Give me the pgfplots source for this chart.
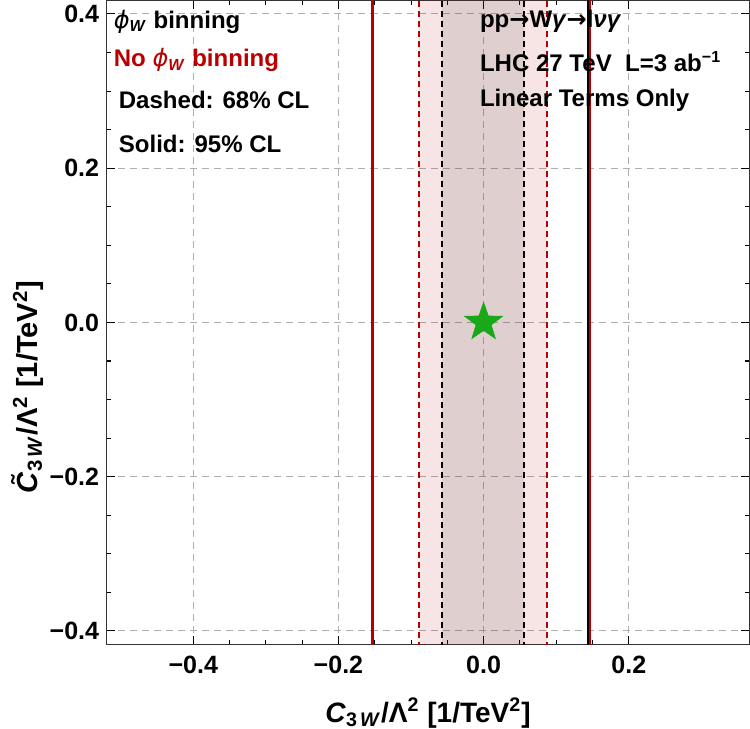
\documentclass[border=0pt]{standalone}
\usepackage{fontspec}
\setmainfont{Liberation Sans}
\newfontfamily\dejavu{DejaVu Sans}
\usepackage{pgfplots}
\pgfplotsset{compat=1.18}
\definecolor{dred}{rgb}{0.72,0,0}
\definecolor{sgreen}{rgb}{0.1,0.66,0.1}
\definecolor{gridgray}{RGB}{175,175,175}
\newcommand{\phiW}{{\dejavu\mdseries\itshape ϕ}\textsubscript{\textit{W}}}
\newcommand{\arr}{{\dejavu\bfseries →}}
\pgfdeclareplotmark{fstar}{%
 \pgfpathmoveto{\pgfpointpolar{90}{\pgfplotmarksize}}%
 \pgfpathlineto{\pgfpointpolar{126}{0.4\pgfplotmarksize}}%
 \pgfpathlineto{\pgfpointpolar{162}{\pgfplotmarksize}}%
 \pgfpathlineto{\pgfpointpolar{198}{0.4\pgfplotmarksize}}%
 \pgfpathlineto{\pgfpointpolar{234}{\pgfplotmarksize}}%
 \pgfpathlineto{\pgfpointpolar{270}{0.4\pgfplotmarksize}}%
 \pgfpathlineto{\pgfpointpolar{306}{\pgfplotmarksize}}%
 \pgfpathlineto{\pgfpointpolar{342}{0.4\pgfplotmarksize}}%
 \pgfpathlineto{\pgfpointpolar{18}{\pgfplotmarksize}}%
 \pgfpathlineto{\pgfpointpolar{54}{0.4\pgfplotmarksize}}%
 \pgfpathclose
 \pgfusepathqfillstroke}
\begin{document}
\begin{tikzpicture}
\begin{axis}[
 scale only axis, width=321.5pt, height=322pt,
 xmin=-0.52, xmax=0.367, ymin=-0.418, ymax=0.418,
 xtick={-0.4,-0.2,0,0.2}, xticklabels={−0.4,−0.2,0.0,0.2},
 ytick={-0.4,-0.2,0,0.2,0.4}, yticklabels={−0.4,−0.2,0.0,0.2,0.4},
 minor x tick num=3, minor y tick num=3,
 tick align=inside,
 major tick length=4.5pt, minor tick length=2.5pt,
 every tick/.style={black, line width=0.5pt},
 axis line style={black!80, line width=0.6pt},
 grid=major,
 major grid style={gridgray, line width=0.5pt, dash pattern=on 3.5pt off 2.5pt},
 ticklabel style={font=\fontsize{12.5}{15}\selectfont\bfseries},
 xticklabel style={yshift=-2pt},
 xlabel={\textit{C}\textsubscript{3\,\textit{W}}/Λ\textsuperscript{2} [1/TeV\textsuperscript{2}]},
 ylabel={\~{\textit{C}}\textsubscript{3\,\textit{W}}/Λ\textsuperscript{2} [1/TeV\textsuperscript{2}]},
 xlabel style={font=\fontsize{14}{16}\selectfont\bfseries, at={(axis description cs:0.5,-0.106)}, anchor=center},
 ylabel style={font=\fontsize{14.5}{16}\selectfont\bfseries, at={(axis description cs:-0.122,0.40)}, anchor=center},
]
\coordinate (sw) at (rel axis cs:0,0);
\coordinate (ne) at (rel axis cs:1,1);
\addplot[draw=none, fill={rgb,1:red,0.71;green,0;blue,0}, fill opacity=0.106] coordinates {(-0.089,-0.5) (0.087,-0.5) (0.087,0.5) (-0.089,0.5)} -- cycle;
\addplot[draw=none, fill=black!76, fill opacity=0.12] coordinates {(-0.057,-0.5) (0.056,-0.5) (0.056,0.5) (-0.057,0.5)} -- cycle;
\addplot[black, line width=1.3pt] coordinates {(-0.153,-0.5) (-0.153,0.5)};
\addplot[black, line width=1.3pt] coordinates {(0.1445,-0.5) (0.1445,0.5)};
\addplot[dred, line width=1.3pt] coordinates {(-0.153,-0.5) (-0.153,0.5)};
\addplot[dred, line width=1.3pt] coordinates {(0.1468,-0.5) (0.1468,0.5)};
\addplot[black, line width=1.2pt, dash pattern=on 3pt off 2pt] coordinates {(-0.057,-0.5) (-0.057,0.5)};
\addplot[black, line width=1.2pt, dash pattern=on 3pt off 2pt] coordinates {(0.056,-0.5) (0.056,0.5)};
\addplot[dred, line width=1.2pt, dash pattern=on 3pt off 2pt] coordinates {(-0.089,-0.5) (-0.089,0.5)};
\addplot[dred, line width=1.2pt, dash pattern=on 3pt off 2pt] coordinates {(0.087,-0.5) (0.087,0.5)};
\addplot[only marks, mark=fstar, mark size=10pt, color=sgreen, mark options={fill=sgreen, draw=sgreen, line width=0.3pt}] coordinates {(0,0)};
\begin{scope}[every node/.style={font=\fontsize{12}{14}\selectfont\bfseries, inner sep=0pt, anchor=west}]
\node at (axis cs:-0.510,0.390) {\phiW\ binning};
\node[text=dred] at (axis cs:-0.510,0.340) {No \phiW\ binning};
\node at (axis cs:-0.503,0.288) {Dashed: 68\% CL};
\node at (axis cs:-0.503,0.232) {Solid: 95\% CL};
\node at (axis cs:-0.0055,0.390) {pp\arr W\textit{γ}\arr l\textit{νγ}};
\node at (axis cs:-0.0055,0.338) {LHC 27 TeV\ \ L=3 ab\textsuperscript{−1}};
\node at (axis cs:-0.0055,0.288) {Linear Terms Only};
\end{scope}
\end{axis}
\pgfresetboundingbox
\path (sw) ++(-53pt,-42pt) rectangle (ne);
\end{tikzpicture}
\end{document}
